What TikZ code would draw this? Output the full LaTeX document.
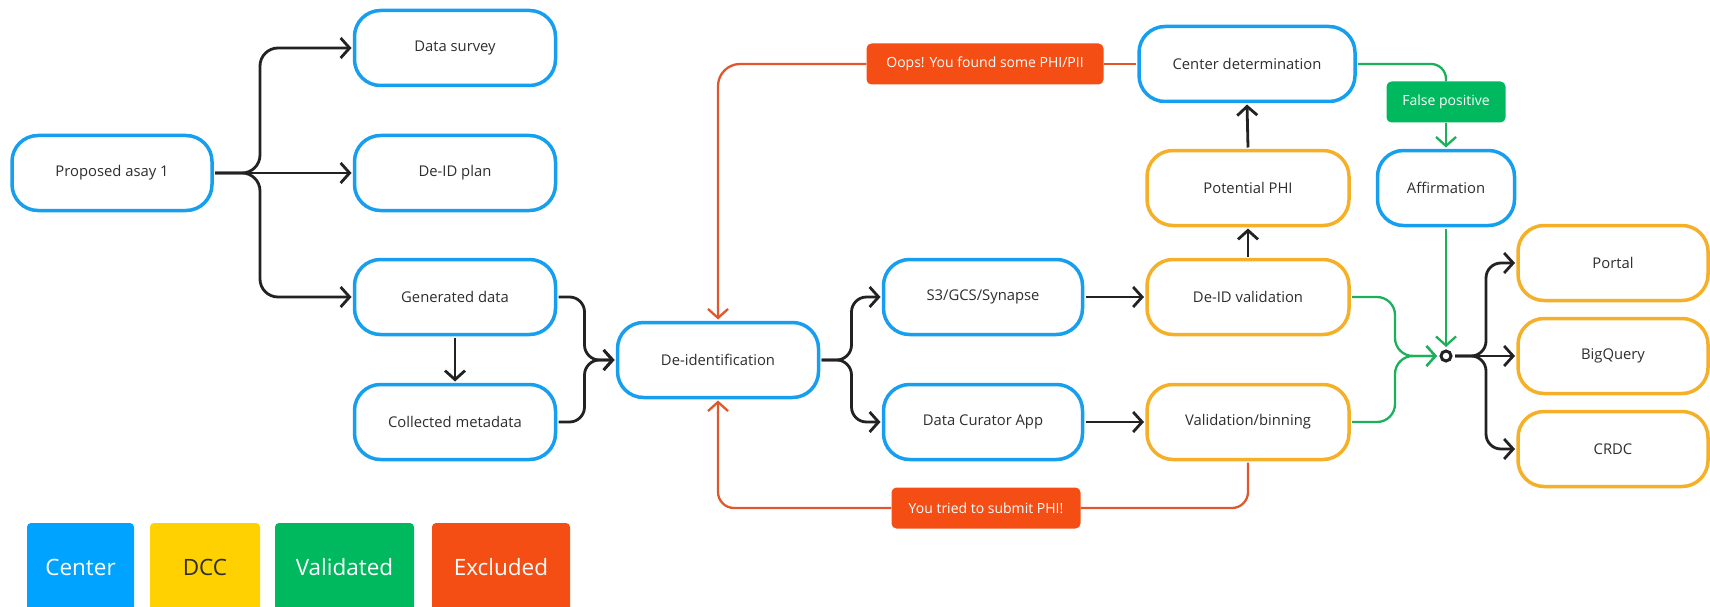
\documentclass[tikz,border=0pt]{standalone}
\usepackage{fontspec}
\setmainfont{Open Sans}
\usetikzlibrary{arrows.meta}
\definecolor{cblue}{HTML}{179FEF}
\definecolor{corange}{HTML}{F5B027}
\definecolor{ctext}{HTML}{2E2E2E}
\definecolor{cblack}{HTML}{222222}
\definecolor{cred}{HTML}{F44E14}
\definecolor{credline}{HTML}{E0572C}
\definecolor{cgreen}{HTML}{00B85E}
\definecolor{cgreenline}{HTML}{1DB05A}
\definecolor{legblue}{HTML}{00A3FF}
\definecolor{legyellow}{HTML}{FFD100}
\begin{document}
\begin{tikzpicture}[x=1pt,y=-1pt,
  basebox/.style={line width=3.5pt, rounded corners=26pt, minimum width=#1, minimum height=75pt,
    inner sep=0pt, outer sep=3pt, fill=white, text=ctext, font=\fontsize{14.8}{17}\selectfont},
  cbox/.style={basebox=#1, draw=cblue},
  dbox/.style={basebox=#1, draw=corange},
  lab/.style={rounded corners=5pt, minimum width=#1, minimum height=41pt, inner sep=0pt,
    text=white, font=\fontsize{14}{16}\selectfont},
  leg/.style={rounded corners=4pt, minimum width=#1, minimum height=88pt, inner sep=0pt,
    font=\fontsize{22.5}{26}\selectfont},
  tip/.style={-{Straight Barb[length=9pt,width=20pt]}},
  blk/.style={line width=2.8pt, draw=cblack, rounded corners=18pt, tip},
  redl/.style={line width=2.3pt, draw=credline, rounded corners=22pt},
  grn/.style={line width=2.3pt, draw=cgreenline, rounded corners=18pt},
]
\useasboundingbox (0,0) rectangle (1710,607);
\clip (0,0) rectangle (1710,607);

% nodes
\node[cbox=200pt] (pa) at (112,173) {Proposed asay 1};
\node[cbox=201pt] (ds) at (455,48) {Data survey};
\node[cbox=201pt] (dp) at (455,173) {De-ID plan};
\node[cbox=201pt] (gd) at (455,297) {Generated data};
\node[cbox=201pt] (cm) at (455,422) {Collected metadata};
\node[cbox=201pt] (di) at (718,360) {De-identification};
\node[cbox=199pt] (s3) at (983,297) {S3/GCS/Synapse};
\node[cbox=199pt] (dca) at (983,422) {Data Curator App};
\node[cbox=216pt] (cd) at (1247,64) {Center determination};
\node[dbox=202pt] (pp) at (1248,188) {Potential PHI};
\node[dbox=202pt] (dv) at (1248,297) {De-ID validation};
\node[dbox=202pt] (vb) at (1248,422) {Validation/binning};
\node[cbox=137pt] (af) at (1446,188) {Affirmation};
\node[circle, draw=cblack, line width=3pt, minimum size=10pt, inner sep=0pt, outer sep=4pt, fill=white] (hub) at (1446,356) {};
\node[dbox=190pt] (po) at (1613,263) {Portal};
\node[dbox=190pt] (bq) at (1613,356) {BigQuery};
\node[dbox=190pt] (cr) at (1613,449) {CRDC};

% labels
\node[lab=237pt, fill=cred] (oops) at (985,64) {Oops! You found some PHI/PII};
\node[lab=119pt, fill=cgreen] (fp) at (1446,102) {False positive};
\node[lab=189pt, fill=cred] (tried) at (986,508) {You tried to submit PHI!};

% legend
\node[leg=107pt, fill=legblue, text=white] (lc) at (80.5,567) {Center};
\node[leg=110pt, fill=legyellow, text=ctext] (ld) at (205,567) {DCC};
\node[leg=139pt, fill=cgreen, text=white] (lv) at (344.5,567) {Validated};
\node[leg=138pt, fill=cred, text=white] (le) at (501,567) {Excluded};

% black connectors
\draw[blk] (pa.east) -- ++(45,0) |- (ds.west);
\draw[blk] (pa.east) -- (dp.west);
\draw[blk] (pa.east) -- ++(45,0) |- (gd.west);
\draw[blk] (gd.south) -- (cm.north);
\draw[blk, rounded corners=15pt] (gd.east) -- ++(26,0) |- (di.west);
\draw[blk, rounded corners=15pt] (cm.east) -- ++(26,0) |- (di.west);
\draw[blk, rounded corners=15pt] (di.east) -- ++(30,0) |- (s3.west);
\draw[blk, rounded corners=15pt] (di.east) -- ++(30,0) |- (dca.west);
\draw[blk] (s3.east) -- (dv.west);
\draw[blk] (dca.east) -- (vb.west);
\draw[blk] (dv.north) -- (pp.south);
\draw[blk] (pp.north) -- (cd.south);
\draw[blk, rounded corners=15pt] (hub.east) -- ++(31,0) |- (po.west);
\draw[blk] (hub.east) -- (bq.west);
\draw[blk, rounded corners=15pt] (hub.east) -- ++(31,0) |- (cr.west);

% red connectors
\draw[redl] (cd.west) -- (oops.east);
\draw[redl, tip] (oops.west) -| (di.north);
\draw[redl, rounded corners=16pt] (vb.south) |- (tried.east);
\draw[redl, rounded corners=16pt, tip] (tried.west) -| (di.south);

% green connectors
\draw[grn, rounded corners=15pt] (cd.east) -| (fp.north);
\draw[grn, tip] (fp.south) -- (af.north);
\draw[grn, tip] (af.south) -- (hub.north);
\draw[grn, tip] (dv.east) -- ++(43,0) |- (hub.west);
\draw[grn, tip] (vb.east) -- ++(43,0) |- (hub.west);
\end{tikzpicture}
\end{document}
